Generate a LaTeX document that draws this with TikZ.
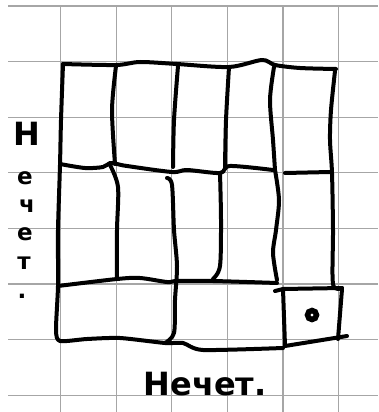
\documentclass[tikz,border=0pt]{standalone}
\usepackage{fontspec}
\newfontfamily\handfont{DejaVu Sans}
\tikzset{
  gridline/.style={draw=black!35,line width=1.2pt},
  pen/.style={draw=black,line width=4pt,line cap=round,line join=round},
  dotmark/.style={circle,draw=black,line width=5.5pt,inner sep=0pt,minimum size=9pt},
  sidelabel/.style={inner sep=0pt,anchor=base},
  footlabel/.style={inner sep=0pt,anchor=base,font=\handfont\bfseries\fontsize{32}{32}\selectfont},
}

\begin{document}
\begin{tikzpicture}[x=1pt,y=-1pt]
  \useasboundingbox (0,0) rectangle (378,412);
  \fill[white] (0,0) rectangle (378,412);

  % squared paper
  \foreach \k in {0,...,7}
    \draw[gridline] (8,6+55.6*\k) -- (378,6+55.6*\k);
  \foreach \k in {0,...,5}
    \draw[gridline] (60.5+55.6*\k,6) -- (60.5+55.6*\k,412);

  % frame and row lines
  \draw[pen] plot[smooth,tension=0.5] coordinates {(63,64) (116,65) (140,62) (177,64) (229,67) (262,60) (275,65) (300,68) (336,69)};
  \draw[pen] plot[smooth,tension=0.5] coordinates {(60,164) (85,168) (103,167) (110,163) (117,164) (127,166) (172,172) (187,170) (220,173) (230,166) (273,170)};
  \draw[pen] (285,173) -- (330,172);
  \draw[pen] plot[smooth,tension=0.5] coordinates {(58,286) (117,279) (140,278) (167,282) (177,281) (213,281) (277,283)};
  \draw[pen] plot[smooth,tension=0.4] coordinates {(63,64) (61,120) (60,165) (58,230) (58,286) (56,330) (60,341) (87,339) (120,338) (165,343) (183,343) (203,350) (283,348)};
  \draw[pen] plot[smooth,tension=0.5] coordinates {(335,71) (331,110) (330,140) (332,173) (333,230) (333,284) (342,288)};

  % columns
  \draw[pen] plot[smooth,tension=0.5] coordinates {(116,66) (112,110) (115,164)};
  \draw[pen] plot[smooth,tension=0.5] coordinates {(110,165) (118,187) (117,230) (117,278)};
  \draw[pen] plot[smooth,tension=0.5] coordinates {(178,66) (174,120) (173,167)};
  \draw[pen] plot[smooth,tension=0.5] coordinates {(167,178) (172,185) (174,230) (177,266) (175,300) (174,333) (165,343)};
  \draw[pen] plot[smooth,tension=0.5] coordinates {(229,67) (226,120) (225,168)};
  \draw[pen] plot[smooth,tension=0.5] coordinates {(220,173) (221,220) (220,266) (213,279)};
  \draw[pen] plot[smooth,tension=0.5] coordinates {(274,67) (270,100) (273,140) (275,170)};
  \draw[pen] plot[smooth,tension=0.5] coordinates {(275,170) (279,200) (276,230) (273,253) (277,280)};

  % corner cell
  \draw[pen] (275,291) -- (283,289) -- (342,288);
  \draw[pen] (283,289) -- (285,346);
  \draw[pen] (342,289) -- (338,339);
  \draw[pen] (285,346) -- (347,336);
  \node[dotmark] (dot) at (312,315) {};

  % labels
  \foreach \ch/\xx/\yy/\sz [count=\i] in {Н/27/145/32, е/25/184/23, ч/27/212/23, е/25/240/23, т/24/269/23, ./22/298/23}
    \node[sidelabel,font=\handfont\bfseries\fontsize{\sz}{\sz}\selectfont] (side\i) at (\xx,\yy) {\ch};
  \node[footlabel] (foot) at (205,395) {Нечет.};
\end{tikzpicture}
\end{document}
